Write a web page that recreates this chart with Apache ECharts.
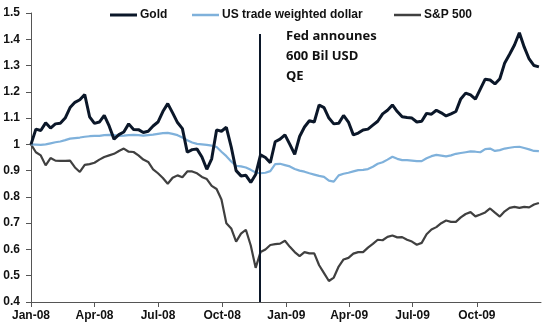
<!DOCTYPE html>
<html>
<head>
<meta charset="utf-8">
<script src="https://cdn.jsdelivr.net/npm/echarts@6/dist/echarts.min.js"></script>
<style>
  html, body { margin: 0; padding: 0; background: #ffffff; }
  #chart { width: 544px; height: 332px; }
</style>
</head>
<body>
<div id="chart"></div>
<script>
// Weekly observations, rebased to 1.0 at the start of 2008
const firstWeek = '2008-01-01';
const weekStepDays = 7;

const gold = [
  1.00, 1.058, 1.053, 1.082, 1.062, 1.078, 1.08, 1.10, 1.14, 1.16,
  1.17, 1.19, 1.105, 1.08, 1.085, 1.11, 1.07, 1.02, 1.037, 1.047,
  1.078, 1.057, 1.056, 1.045, 1.05, 1.07, 1.085, 1.125, 1.155, 1.12,
  1.083, 1.06, 0.97, 0.98, 0.982, 0.952, 0.905, 0.945, 1.055, 1.05,
  1.065, 0.99, 0.90, 0.88, 0.882, 0.855, 0.885, 0.96, 0.95, 0.93,
  1.01, 1.02, 1.036, 1.0, 0.962, 1.03, 1.066, 1.09, 1.085, 1.15,
  1.14, 1.10, 1.078, 1.08, 1.11, 1.085, 1.036, 1.043, 1.055, 1.058,
  1.073, 1.088, 1.116, 1.13, 1.15, 1.125, 1.105, 1.102, 1.10, 1.085,
  1.088, 1.118, 1.115, 1.13, 1.12, 1.108, 1.116, 1.125, 1.173, 1.195,
  1.188, 1.172, 1.21, 1.248, 1.245, 1.23, 1.25, 1.31, 1.343, 1.378,
  1.425, 1.37, 1.325, 1.30, 1.295
];

const usDollar = [
  1.00, 0.999, 0.998, 1.0, 1.004, 1.008, 1.011, 1.016, 1.022, 1.024,
  1.026, 1.029, 1.031, 1.032, 1.032, 1.035, 1.036, 1.035, 1.032, 1.033,
  1.035, 1.036, 1.035, 1.033, 1.035, 1.037, 1.04, 1.043, 1.044, 1.04,
  1.035, 1.026, 1.016, 1.007, 1.002, 1.0, 0.998, 0.995, 0.99, 0.972,
  0.955, 0.935, 0.918, 0.916, 0.912, 0.903, 0.893, 0.89, 0.892, 0.898,
  0.925, 0.926, 0.921, 0.916, 0.906, 0.9, 0.896, 0.89, 0.885, 0.88,
  0.876, 0.862, 0.858, 0.882, 0.888, 0.892, 0.897, 0.902, 0.903, 0.906,
  0.915, 0.926, 0.932, 0.942, 0.953, 0.945, 0.94, 0.94, 0.938, 0.936,
  0.936, 0.947, 0.955, 0.96, 0.957, 0.954, 0.958, 0.964, 0.967, 0.97,
  0.973, 0.972, 0.97, 0.982, 0.984, 0.975, 0.978, 0.984, 0.987, 0.99,
  0.991, 0.986, 0.981, 0.975, 0.974
];

const sp500 = [
  1.00, 0.97, 0.958, 0.92, 0.948, 0.938, 0.937, 0.937, 0.938, 0.912,
  0.895, 0.922, 0.925, 0.93, 0.942, 0.952, 0.958, 0.964, 0.975, 0.984,
  0.972, 0.971, 0.958, 0.942, 0.933, 0.905, 0.89, 0.872, 0.85, 0.873,
  0.882, 0.875, 0.897, 0.897, 0.89, 0.876, 0.868, 0.842, 0.83, 0.79,
  0.70, 0.68, 0.63, 0.66, 0.675, 0.615, 0.53, 0.59, 0.60, 0.617,
  0.62, 0.622, 0.633, 0.61, 0.59, 0.575, 0.59, 0.585, 0.585, 0.54,
  0.51, 0.48, 0.493, 0.535, 0.562, 0.568, 0.584, 0.59, 0.59, 0.607,
  0.621, 0.637, 0.635, 0.648, 0.653, 0.646, 0.647, 0.637, 0.63, 0.618,
  0.625, 0.658, 0.676, 0.685, 0.70, 0.71, 0.705, 0.705, 0.722, 0.735,
  0.742, 0.726, 0.733, 0.741, 0.756, 0.74, 0.725, 0.745, 0.758, 0.762,
  0.758, 0.762, 0.76, 0.771, 0.777
];

const seriesNames = ['Gold', 'US trade weighted dollar', 'S&P 500'];
const tickDates = ['2008-01-01', '2008-04-01', '2008-07-01', '2008-10-01',
                   '2009-01-01', '2009-04-01', '2009-07-01', '2009-10-01'];
const tickLabels = ['Jan-08', 'Apr-08', 'Jul-08', 'Oct-08',
                    'Jan-09', 'Apr-09', 'Jul-09', 'Oct-09'];
const axisStart = '2008-01-01';
const axisEnd = '2010-01-01';
const qeDate = '2008-11-24';
const qeNote = ['Fed announes', '600 Bil USD', 'QE'];
const yMin = 0.4, yMax = 1.5, yStep = 0.1;

const colors = { gold: '#0b1729', dollar: '#7fb1db', sp: '#404040' };

// The x axis counts days from the start of 2008
const DAY = 86400000;
function dayOf(s) {
  const p = s.split('-').map(Number);
  return Math.round((Date.UTC(p[0], p[1] - 1, p[2]) - Date.UTC(2008, 0, 1)) / DAY);
}

const d0 = dayOf(firstWeek);
const weekDays = gold.map((_, i) => d0 + i * weekStepDays);
const pair = arr => arr.map((v, i) => [weekDays[i], v]);

const tickDays = tickDates.map(dayOf);
const labelFor = {};
tickDays.forEach((d, i) => { labelFor[d] = tickLabels[i]; });

const axisFont = { fontFamily: 'Liberation Sans, Arial, sans-serif', fontWeight: 'bold', fontSize: 12, color: '#111111' };

const chart = echarts.init(document.getElementById('chart'), null, { renderer: 'canvas' });

// One legend block per series so each key sits where it belongs
function legendFor(name, left, thickness) {
  return {
    data: [{ name: name, icon: 'rect' }],
    left: left, top: 4, itemWidth: 27, itemHeight: thickness, itemGap: 0,
    textStyle: Object.assign({ padding: [0, 0, 0, -2] }, axisFont),
    selectedMode: false
  };
}

chart.setOption({
  animation: false,
  backgroundColor: '#ffffff',
  legend: [
    legendFor(seriesNames[0], 105, 3),
    legendFor(seriesNames[1], 187, 2.5),
    legendFor(seriesNames[2], 389, 2.5)
  ],
  grid: { left: 31, right: 3, top: 13, bottom: 30, containLabel: false },
  xAxis: {
    type: 'value',
    min: dayOf(axisStart),
    max: dayOf(axisEnd),
    splitLine: { show: false },
    axisLine: { lineStyle: { color: '#555555', width: 1 } },
    axisTick: { show: true, customValues: tickDays, length: 5, lineStyle: { color: '#555555' } },
    axisLabel: Object.assign({
      customValues: tickDays,
      margin: 8,
      formatter: v => labelFor[v] || ''
    }, axisFont)
  },
  yAxis: {
    type: 'value',
    min: yMin, max: yMax, interval: yStep,
    splitLine: { show: false },
    axisLine: { show: true, lineStyle: { color: '#555555', width: 1 } },
    axisTick: { show: true, length: 5, lineStyle: { color: '#555555' } },
    axisLabel: Object.assign({
      margin: 11,
      formatter: v => String(Math.round(v * 10) / 10)
    }, axisFont)
  },
  graphic: [{
    type: 'text',
    left: 286,
    top: 26,
    style: {
      text: qeNote.join('\n'),
      font: 'bold 13px "Open Sans", sans-serif',
      lineHeight: 20,
      fill: '#111111'
    }
  }],
  series: [
    {
      name: seriesNames[0], type: 'line', data: pair(gold),
      symbol: 'none', z: 4,
      lineStyle: { color: colors.gold, width: 3 },
      itemStyle: { color: colors.gold },
      markLine: {
        silent: true, symbol: ['none', 'none'], label: { show: false },
        lineStyle: { color: colors.gold, width: 2, type: 'solid' },
        data: [[{ coord: [dayOf(qeDate), 1.42] }, { coord: [dayOf(qeDate), yMin] }]]
      }
    },
    {
      name: seriesNames[1], type: 'line', data: pair(usDollar),
      symbol: 'none', z: 3,
      lineStyle: { color: colors.dollar, width: 2.2 },
      itemStyle: { color: colors.dollar }
    },
    {
      name: seriesNames[2], type: 'line', data: pair(sp500),
      symbol: 'none', z: 2,
      lineStyle: { color: colors.sp, width: 2.2 },
      itemStyle: { color: colors.sp }
    }
  ]
});
</script>
</body>
</html>
